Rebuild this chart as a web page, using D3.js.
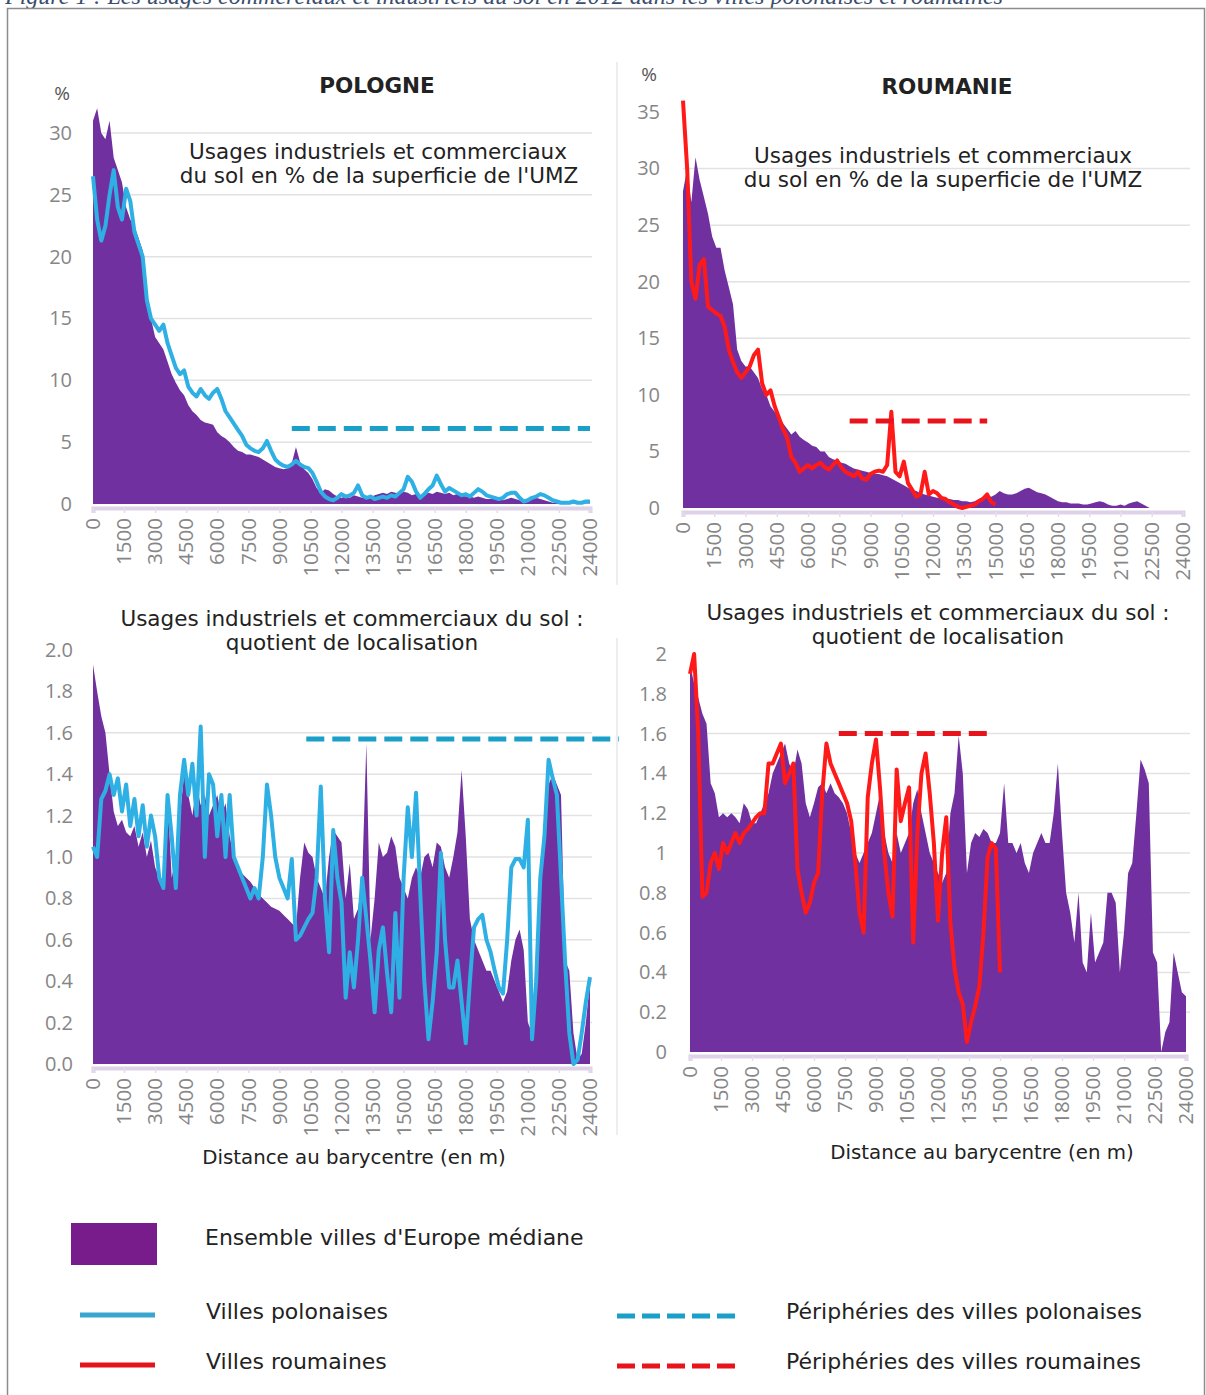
<!DOCTYPE html>
<html><head><meta charset="utf-8">
<script src="https://cdn.jsdelivr.net/npm/d3@7"></script>
<style>body{margin:0;background:#fff}svg{display:block}</style>
</head><body>
<svg id="c" width="1206" height="1395"></svg>
<script>
// ---------- DATA ----------
const distances = d3.range(0, 24001, 200); // category axis, metres
const xTickLabels = [0,1500,3000,4500,6000,7500,9000,10500,12000,13500,15000,16500,18000,19500,21000,22500,24000];
const pctTicksPL = [0,5,10,15,20,25,30];
const pctTicksRO = [0,5,10,15,20,25,30,35];
const qlTicks = [0,0.2,0.4,0.6,0.8,1.0,1.2,1.4,1.6,1.8,2.0];

// Pologne, % of UMZ area — Ensemble villes d'Europe médiane
const ensemblePctPL = [
 31,32,30,29.5,31,28,27,26,24,23,
 22.5,21.5,20.5,17,15,13.5,13,12.5,11.5,10.5,
 9.8,9.2,8.8,8,7.5,7.2,6.8,6.6,6.5,6.4,
 5.8,5.5,5.3,5.0,4.6,4.3,4.2,4.0,4.0,3.9,
 3.8,3.6,3.4,3.2,3.0,2.9,2.8,2.9,3.3,4.6,
 3.4,2.8,2.5,2.0,1.3,0.9,1.2,1.1,0.8,0.6,
 0.5,0.6,0.5,0.7,0.6,0.5,0.6,0.5,0.7,0.8,
 0.9,0.8,1.0,0.9,0.8,1.0,0.9,0.7,0.8,0.6,
 0.7,0.9,0.8,1.0,0.9,0.8,0.9,0.7,0.8,0.7,
 0.6,0.6,0.5,0.6,0.5,0.4,0.4,0.5,0.4,0.3,
 0.4,0.5,0.4,0.3,0.2,0.3,0.4,0.5,0.4,0.3,
 0.2,0.1,0.1,0.05,0.05,0.05,0.05,0.05,0.05,0.05,
 0.05];
// Villes polonaises, %
const villesPctPL = [
 26.5,23,21.3,22.5,25,27,24,23,25.5,24.5,
 22,21,20,16.5,15,14.5,14,14.5,13,12,
 11,10.5,10.8,9.5,9,8.7,9.3,8.8,8.5,9.0,
 9.3,8.5,7.5,7,6.5,6,5.5,4.8,4.5,4.3,
 4.2,4.5,5.1,4.3,3.6,3.3,3.1,3.0,3.2,3.5,
 3.2,3.0,2.9,2.5,1.8,1.0,0.6,0.4,0.3,0.5,
 0.8,0.6,0.7,0.9,1.5,0.7,0.5,0.6,0.4,0.5,
 0.6,0.5,0.7,0.6,0.9,1.2,2.2,1.8,1.0,0.5,
 0.8,1.2,1.5,2.3,1.6,1.0,1.3,1.1,0.9,0.7,
 0.8,0.6,0.9,1.2,1.0,0.7,0.6,0.5,0.4,0.5,
 0.8,0.9,0.9,0.5,0.2,0.3,0.5,0.6,0.8,0.7,
 0.5,0.3,0.2,0.1,0.1,0.1,0.2,0.1,0.1,0.2,
 0.2];
// Périphéries des villes polonaises, % : [start, end, value]
const periphPctPL = [9600, 24000, 6.1];

// Roumanie, %
const ensemblePctRO = [
 28,30,27,31,29,27.5,26,24,23,23,
 21,19.5,18,14,13,12.5,12.5,12,11.5,10.5,
 10,9,8.5,8,7.5,7,6.5,6.8,6.3,6.0,
 5.8,5.5,5.4,5.0,5.0,4.5,4.3,4.2,4.0,3.9,
 3.7,3.5,3.4,3.3,3.2,3.1,3.0,3.0,2.9,2.8,
 2.6,2.4,2.2,2.0,1.8,1.6,1.5,1.3,1.2,1.1,
 1.0,0.9,0.9,0.8,0.8,0.7,0.7,0.6,0.6,0.5,
 0.6,0.8,1.0,1.1,1.0,1.2,1.5,1.3,1.2,1.2,
 1.3,1.5,1.7,1.8,1.6,1.4,1.3,1.2,1.0,0.8,
 0.6,0.5,0.5,0.4,0.4,0.4,0.3,0.3,0.4,0.5,
 0.6,0.5,0.3,0.2,0.2,0.3,0.2,0.4,0.5,0.6,
 0.4,0.2,0,null,null,null,null,null,null,null,
 null];
const villesPctRO = [
 36,30,20,18.5,21.5,22,17.8,17.5,17.2,17,
 16,14,12.9,12,11.5,12,12.5,13.5,14,11,
 10,10.4,9,8,7,6.2,4.5,4,3.2,3.5,
 3.8,3.5,3.8,4,3.6,3.4,3.8,4.2,3.6,3.2,
 3.0,2.8,3.2,2.6,2.5,3.0,3.2,3.3,3.2,3.8,
 8.5,3.2,2.8,4.1,2.2,1.6,1.0,1.2,3.2,1.2,
 1.5,1.3,0.9,0.8,0.5,0.3,0.1,0.0,0.1,0.2,
 0.3,0.6,0.8,1.2,0.5,0.3];
const periphPctRO = [8000, 14600, 7.7];

// Quotient de localisation — Pologne
const ensembleQLPL = [
 1.93,1.8,1.68,1.6,1.4,1.22,1.15,1.18,1.12,1.1,
 1.15,1.05,1.12,1.0,1.08,0.95,0.9,0.85,1.3,0.9,
 1.0,1.2,1.4,1.3,1.2,1.35,1.25,1.3,1.2,1.25,
 1.3,1.2,1.26,1.1,1.0,0.95,0.92,0.9,0.88,0.85,
 0.82,0.8,0.78,0.76,0.75,0.74,0.72,0.7,0.68,0.66,
 0.9,1.07,1.02,1.0,0.9,0.85,0.8,1.0,1.13,1.1,
 1.07,0.8,0.97,0.7,0.75,0.9,1.55,0.6,0.8,1.07,
 1.0,1.02,1.1,1.05,0.9,0.85,0.8,0.9,0.95,0.9,
 1.0,1.02,0.95,1.07,1.05,0.95,0.9,1.0,1.12,1.42,
 1.1,0.7,0.6,0.55,0.5,0.45,0.45,0.4,0.35,0.3,
 0.35,0.5,0.6,0.65,0.55,0.2,0.15,0.4,0.9,1.2,
 1.35,1.4,1.35,1.3,0.5,0.45,0.15,0.02,0.05,0.2,
 0.4];
const villesQLPL = [
 1.05,1.0,1.28,1.32,1.4,1.3,1.38,1.22,1.35,1.15,
 1.28,1.1,1.25,1.05,1.2,1.1,0.9,0.85,1.3,1.1,
 0.85,1.3,1.47,1.3,1.45,1.2,1.63,1.0,1.4,1.35,
 1.1,1.3,1.0,1.3,1.0,0.95,0.9,0.85,0.8,0.85,
 0.8,1.0,1.35,1.2,1.0,0.9,0.85,0.8,0.99,0.6,
 0.62,0.66,0.7,0.73,0.9,1.34,0.8,0.54,1.13,0.9,
 0.78,0.32,0.54,0.37,0.6,0.9,0.7,0.5,0.25,0.55,
 0.66,0.44,0.25,0.73,0.32,0.9,1.24,1.0,1.31,0.83,
 0.4,0.12,0.3,0.54,1.02,0.6,0.37,0.37,0.5,0.3,
 0.1,0.4,0.66,0.7,0.72,0.6,0.54,0.45,0.37,0.34,
 0.6,0.95,0.99,0.99,0.95,1.18,0.12,0.4,0.9,1.1,
 1.47,1.38,1.3,0.9,0.49,0.15,0.0,0.02,0.15,0.3,
 0.42];
const periphQLPL = [10300, 25400, 1.57];

// Quotient de localisation — Roumanie
const ensembleQLRO = [
 1.95,1.85,1.78,1.7,1.65,1.35,1.3,1.18,1.2,1.18,
 1.2,1.18,1.15,1.25,1.22,1.15,1.15,1.2,1.25,1.3,
 1.4,1.45,1.5,1.55,1.45,1.4,1.52,1.45,1.25,1.18,
 1.25,1.33,1.35,1.3,1.35,1.3,1.28,1.25,1.2,1.1,
 1.0,0.95,1.0,1.05,1.1,1.2,1.3,1.1,1.0,0.95,
 1.1,1.0,1.05,1.1,1.25,1.32,1.2,1.1,1.0,0.95,
 0.9,0.85,0.9,1.2,1.3,1.59,1.4,0.9,1.05,1.1,
 1.08,1.12,1.1,1.05,1.05,1.1,1.35,1.05,1.05,1.0,
 1.05,0.95,0.9,1.0,1.05,1.1,1.05,1.05,1.2,1.45,
 1.1,0.8,0.7,0.55,0.8,0.45,0.4,0.7,0.45,0.5,
 0.55,0.8,0.8,0.75,0.4,0.6,0.9,0.95,1.2,1.47,
 1.42,1.35,0.5,0.45,0.0,0.1,0.15,0.5,0.4,0.3,
 0.28];
const villesQLRO = [
 1.9,2.0,1.6,0.78,0.8,0.95,1.0,0.92,1.05,1.0,
 1.05,1.1,1.05,1.1,1.12,1.15,1.18,1.2,1.2,1.45,
 1.45,1.5,1.55,1.35,1.4,1.45,0.92,0.8,0.7,0.75,
 0.85,0.9,1.3,1.55,1.45,1.4,1.35,1.3,1.25,1.16,
 0.95,0.7,0.6,1.28,1.45,1.57,1.32,1.0,0.8,0.68,
 1.42,1.16,1.25,1.33,0.55,1.1,1.4,1.5,1.3,1.05,
 0.66,1.0,1.18,0.65,0.42,0.3,0.24,0.05,0.15,0.23,
 0.33,0.6,0.98,1.05,1.02,0.4];
const periphQLRO = [7200, 14500, 1.6];

// ---------- STYLE ----------
const C = {
  purple:'#7030a0', blue:'#2fb0e4', blueDash:'#1aa0c8', red:'#ff1a1a', redDash:'#e8141c',
  grid:'#e2e2e2', tick:'#868686', text:'#222222'
};
const svg = d3.select('#c');

// caption (partly cut by top edge, as in the source)
svg.append('text').attr('x',5).attr('y',4).attr('font-family','Liberation Serif, serif')
  .attr('font-style','italic').attr('font-size',24).attr('fill','#3a4d6e')
  .text('Figure 1 : Les usages commerciaux et industriels du sol en 2012 dans les villes polonaises et roumaines');
// frame
svg.append('rect').attr('x',7.5).attr('y',8.5).attr('width',1197).attr('height',1400)
  .attr('fill','none').attr('stroke','#8c8c8c').attr('stroke-width',1.5);
// separators
[[62,585],[638,1135]].forEach(([a,b])=>svg.append('line').attr('x1',617).attr('x2',617).attr('y1',a).attr('y2',b)
  .attr('stroke','#e8e8e8').attr('stroke-width',1.5));

function series(vals){ return distances.map((d,i)=>[d, i<vals.length ? vals[i] : null]); }

function panel(cfg){
  const g = svg.append('g');
  const x = d3.scaleLinear().domain([0,24000]).range([cfg.x0,cfg.x1]);
  const y = d3.scaleLinear().domain([0,cfg.yMax]).range([cfg.yBase,cfg.yTop]);
  // gridlines
  g.append('g').selectAll('line').data(cfg.grid).join('line')
    .attr('x1',cfg.x0).attr('x2',cfg.gridEnd).attr('y1',d=>y(d)).attr('y2',d=>y(d))
    .attr('stroke',C.grid).attr('stroke-width',1.5);
  // x axis base
  const xa = g.append('g').attr('transform',`translate(0,${cfg.yBase+4})`)
    .call(d3.axisBottom(x).tickValues(xTickLabels).tickSize(5).tickFormat(''));
  xa.select('.domain').attr('stroke','#ddd2e8').attr('stroke-width',4);
  xa.selectAll('.tick line').attr('stroke','#e4dcec').attr('stroke-width',1.5);
  g.append('g').selectAll('text').data(xTickLabels).join('text')
    .attr('transform',d=>`translate(${x(d)},${cfg.yBase+cfg.lblOff}) rotate(-90)`)
    .attr('text-anchor','end').attr('dy','0.35em')
    .attr('font-family','Open Sans, DejaVu Sans, sans-serif').attr('font-size',20.5).attr('fill',C.tick)
    .text(d=>d);
  // y axis
  const ya = g.append('g').attr('transform',`translate(${cfg.x0},0)`)
    .call(d3.axisLeft(y).tickValues(cfg.yTicks).tickSize(0).tickPadding(cfg.yPad).tickFormat(cfg.fmt));
  ya.select('.domain').remove();
  ya.selectAll('text').attr('font-family','Open Sans, DejaVu Sans, sans-serif').attr('font-size',20).attr('fill',C.tick);
  // area
  const area = d3.area().defined(d=>d[1]!=null).x(d=>x(d[0])).y0(y(0)).y1(d=>y(d[1]));
  g.append('path').datum(series(cfg.area)).attr('d',area).attr('fill',C.purple);
  // city line
  const line = d3.line().defined(d=>d[1]!=null).x(d=>x(d[0])).y(d=>y(d[1]));
  g.append('path').datum(series(cfg.line)).attr('d',line).attr('fill','none')
    .attr('stroke',cfg.lineColor).attr('stroke-width',cfg.lineW).attr('stroke-linejoin','round');
  // periphery dashed
  const p = cfg.periph;
  g.append('path').datum([[p[0],p[2]],[p[1],p[2]]]).attr('d',d3.line().x(d=>x(d[0])).y(d=>y(d[1])))
    .attr('fill','none').attr('stroke',cfg.dashColor).attr('stroke-width',5).attr('stroke-dasharray','18,8');
}

panel({x0:93,x1:590,yBase:504,yTop:133,yMax:30,yTicks:pctTicksPL,grid:[5,10,15,20,25,30],gridEnd:592,
  yPad:21,fmt:d=>d,lblOff:14,area:ensemblePctPL,line:villesPctPL,lineColor:C.blue,lineW:4,
  periph:periphPctPL,dashColor:C.blueDash});
panel({x0:683,x1:1183,yBase:508,yTop:112,yMax:35,yTicks:pctTicksRO,grid:[5,10,15,20,25,30],gridEnd:1190,
  yPad:23,fmt:d=>d,lblOff:14,area:ensemblePctRO,line:villesPctRO,lineColor:C.red,lineW:4,
  periph:periphPctRO,dashColor:C.redDash});
panel({x0:93,x1:590,yBase:1064,yTop:650,yMax:2,yTicks:qlTicks,grid:[0.2,0.4,0.6,0.8,1.0,1.2,1.4,1.6],gridEnd:592,
  yPad:20,fmt:d3.format('.1f'),lblOff:14,area:ensembleQLPL,line:villesQLPL,lineColor:C.blue,lineW:4,
  periph:periphQLPL,dashColor:C.blueDash});
panel({x0:690,x1:1186,yBase:1052,yTop:654,yMax:2,yTicks:qlTicks,grid:[0.2,0.4,0.6,0.8,1.0,1.2,1.4,1.6],gridEnd:1190,
  yPad:23,fmt:d=>String(+d.toFixed(1)),lblOff:14,area:ensembleQLRO,line:villesQLRO,lineColor:C.red,lineW:4,
  periph:periphQLRO,dashColor:C.redDash});

// ---------- TEXTS ----------
function txt(x,y,s,opt={}){
  return svg.append('text').attr('x',x).attr('y',y).attr('dy','0.35em')
    .attr('text-anchor',opt.anchor||'middle').attr('font-family',opt.font||'DejaVu Sans, sans-serif')
    .attr('font-size',opt.size||22).attr('font-weight',opt.weight||'normal').attr('fill',opt.fill||C.text).text(s);
}
// two-line title as one text element
function txt2(x,y,l1,l2,x2){
  const t = svg.append('text').attr('text-anchor','middle').attr('font-family','DejaVu Sans, sans-serif')
    .attr('font-size',21.5).attr('fill',C.text);
  t.append('tspan').attr('x',x).attr('y',y-2).attr('dy','0.35em').text(l1);
  t.append('tspan').attr('x',x2==null?x:x2).attr('y',y+22).attr('dy','0.35em').text(l2);
}
txt(377,85,'POLOGNE',{size:21.5,weight:'bold'});
txt(947,86,'ROUMANIE',{size:21.5,weight:'bold'});
txt(62,93,'%',{size:19,fill:'#555',font:'Open Sans, sans-serif'});
txt(649,74,'%',{size:19,fill:'#555',font:'Open Sans, sans-serif'});
txt2(378,153,'Usages industriels et commerciaux',"du sol en % de la superficie de l'UMZ",379);
txt2(943,157,'Usages industriels et commerciaux',"du sol en % de la superficie de l'UMZ");
txt2(352,620,'Usages industriels et commerciaux du sol :','quotient de localisation');
txt2(938,614,'Usages industriels et commerciaux du sol :','quotient de localisation');
txt(354,1157,'Distance au barycentre (en m)',{size:19.8});
txt(982,1152,'Distance au barycentre (en m)',{size:19.8});

// ---------- LEGEND ----------
svg.append('rect').attr('x',71).attr('y',1223).attr('width',86).attr('height',42).attr('fill','#781c8c');
svg.append('line').attr('x1',80).attr('x2',155).attr('y1',1315).attr('y2',1315).attr('stroke','#3aa6cf').attr('stroke-width',5);
svg.append('line').attr('x1',80).attr('x2',155).attr('y1',1365).attr('y2',1365).attr('stroke','#e3141c').attr('stroke-width',5);
svg.append('line').attr('x1',617).attr('x2',735).attr('y1',1316).attr('y2',1316).attr('stroke',C.blueDash).attr('stroke-width',5).attr('stroke-dasharray','18,7');
svg.append('line').attr('x1',617).attr('x2',735).attr('y1',1366).attr('y2',1366).attr('stroke',C.redDash).attr('stroke-width',5).attr('stroke-dasharray','18,7');
txt(205,1237,"Ensemble villes d'Europe médiane",{anchor:'start'});
txt(206,1311,'Villes polonaises',{anchor:'start'});
txt(206,1361,'Villes roumaines',{anchor:'start'});
txt(786,1311,'Périphéries des villes polonaises',{anchor:'start'});
txt(786,1361,'Périphéries des villes roumaines',{anchor:'start'});
</script>
</body></html>
